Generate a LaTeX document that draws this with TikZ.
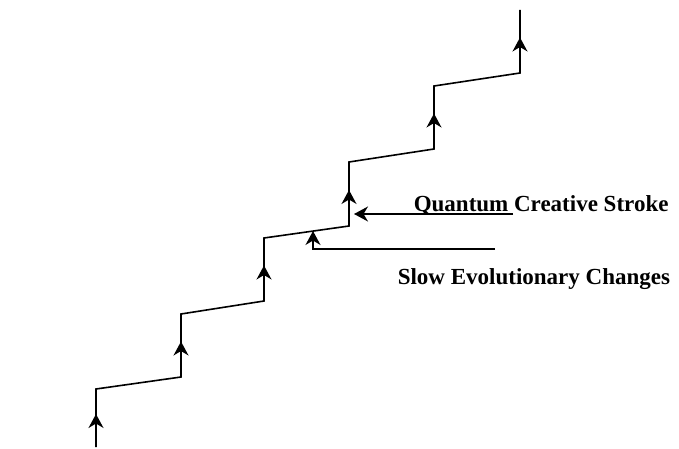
\documentclass[tikz,border=0pt]{standalone}
\usepackage{fontspec}
\setmainfont{Liberation Serif}
\usepackage{tikz}
\usetikzlibrary{arrows.meta}

\begin{document}
\begin{tikzpicture}[x=1pt, y=-1pt, line width=1.6pt,
    >={Stealth[length=14pt, width=15pt, inset=4.5pt]},
    label text/.style={font=\fontsize{23}{28}\selectfont\bfseries, anchor=base west, inner sep=0pt}]
    \useasboundingbox (0,0) rectangle (679,449);
    % staircase
    \draw[line join=miter] (96,447) -- (96,389) -- (181,377) -- (181,314)
      -- (264,301) -- (264,238) -- (349,226) -- (349,162)
      -- (434,149) -- (434,86) -- (520,73) -- (520,10);
    % arrows on the risers
    \foreach \x/\a/\b in {96/447/389, 181/377/314, 264/301/238,
                          349/226/162, 434/149/86, 520/73/10}
      \draw[->] (\x,\a) -- (\x,{(\a+\b)/2-4});
    % labels
    \node[label text] (quantum) at (413,211) {Quantum Creative Stroke};
    \node[label text] (slow) at (397,284) {Slow Evolutionary Changes};
    % pointers
    \coordinate (qstart) at (513,214);
    \coordinate (qend) at (354,214);
    \draw[->] (qstart) -- (qend);
    \coordinate (sstart) at (495,249);
    \coordinate (send) at (313,231);
    \draw[->, line join=miter] (sstart) -| (send);
  \end{tikzpicture}
\end{document}
